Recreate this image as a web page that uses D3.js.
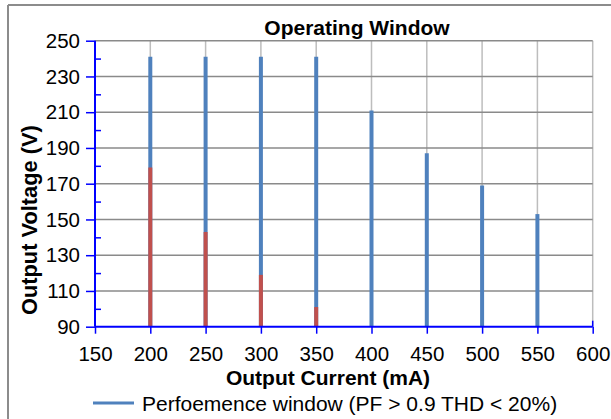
<!DOCTYPE html>
<html><head><meta charset="utf-8">
<script src="https://cdn.jsdelivr.net/npm/d3@7"></script>
<style>body{margin:0;background:#fff}svg{display:block;font-family:"Liberation Sans",Arial,sans-serif}</style>
</head><body><svg id="c" width="611" height="419"></svg>
<script>
const currents = [200, 250, 300, 350, 400, 450, 500, 550];
const perfTop = [241, 241, 241, 241, 211, 187, 169, 153];
const redTop = [179, 143, 119, 101, null, null, null, null];
const xTicks = [150, 200, 250, 300, 350, 400, 450, 500, 550, 600];
const yTicks = [90, 110, 130, 150, 170, 190, 210, 230, 250];
const yMinor = [100, 120, 140, 160, 180, 200, 220, 240];
const legendLabel = "Perfoemence window (PF > 0.9 THD < 20%)";

const svg = d3.select("#c");
const x = d3.scaleLinear().domain([150, 600]).range([95, 592.7]);
const y = d3.scaleLinear().domain([90, 250]).range([326.7, 40.7]);
const axisBlue = "#0000ff";
const FONT = "Liberation Sans, Arial, sans-serif";

// outer border (top & left only visible)
svg.append("line").attr("x1", 8).attr("x2", 611).attr("y1", 5).attr("y2", 5).attr("stroke", "#8c8c8c").attr("stroke-width", 2);
svg.append("line").attr("x1", 8).attr("x2", 8).attr("y1", 5).attr("y2", 419).attr("stroke", "#8c8c8c").attr("stroke-width", 2);

// vertical gridlines
svg.append("g").selectAll("line").data(xTicks.slice(1)).join("line")
  .attr("x1", d => x(d)).attr("x2", d => x(d)).attr("y1", y(250)).attr("y2", y(90))
  .attr("stroke", "#bdbdbd").attr("stroke-width", 1.5);
// horizontal gridlines
svg.append("g").selectAll("line").data(yTicks.slice(1)).join("line")
  .attr("x1", x(150)).attr("x2", x(600)).attr("y1", d => y(d)).attr("y2", d => y(d))
  .attr("stroke", "#8a8a8a").attr("stroke-width", 1.5);

// bars
const bw = 4;
svg.append("g").selectAll("line").data(currents).join("line")
  .attr("x1", d => x(d)).attr("x2", d => x(d))
  .attr("y1", y(90)).attr("y2", (d, i) => y(perfTop[i]))
  .attr("stroke", "#4f81bd").attr("stroke-width", bw);
svg.append("g").selectAll("line").data(currents.filter((d, i) => redTop[i] != null)).join("line")
  .attr("x1", d => x(d)).attr("x2", d => x(d))
  .attr("y1", y(90)).attr("y2", (d, i) => y(redTop[i]))
  .attr("stroke", "#c0504d").attr("stroke-width", bw);

// y axis
const yAxis = d3.axisLeft(y).tickValues(yTicks).tickSize(9).tickPadding(6).tickFormat(d3.format("d"));
const gy = svg.append("g").attr("transform", `translate(${x(150)},0)`).call(yAxis);
gy.select(".domain").remove();
gy.selectAll(".tick line").attr("stroke", axisBlue).attr("stroke-width", 1.5);
gy.selectAll("text").attr("font-size", 20.5).attr("fill", "#000").attr("font-family", FONT);
const yMinorAxis = d3.axisRight(y).tickValues(yMinor).tickSize(6).tickFormat("");
const gym = svg.append("g").attr("transform", `translate(${x(150)},0)`).call(yMinorAxis);
gym.select(".domain").remove();
gym.selectAll(".tick line").attr("stroke", axisBlue).attr("stroke-width", 1.5);
svg.append("line").attr("x1", x(150)).attr("x2", x(150)).attr("y1", y(250)).attr("y2", y(90))
  .attr("stroke", axisBlue).attr("stroke-width", 2);

// x axis
const xAxis = d3.axisBottom(x).tickValues(xTicks).tickSize(7).tickFormat(d3.format("d"));
const gx = svg.append("g").attr("transform", `translate(0,${y(90)})`).call(xAxis);
gx.select(".domain").remove();
gx.selectAll(".tick line").attr("stroke", axisBlue).attr("stroke-width", 1.5);
gx.selectAll("text").attr("font-size", 20.5).attr("fill", "#000").attr("font-family", FONT)
  .attr("y", 361 - y(90)).attr("dy", null);
svg.append("line").attr("x1", x(150)).attr("x2", x(600)).attr("y1", y(90)).attr("y2", y(90))
  .attr("stroke", axisBlue).attr("stroke-width", 2);
svg.append("line").attr("x1", x(600)).attr("x2", x(600)).attr("y1", y(90) - 6).attr("y2", y(90))
  .attr("stroke", axisBlue).attr("stroke-width", 1.5);

// titles
svg.append("text").attr("x", 357).attr("y", 34.5).attr("text-anchor", "middle")
  .attr("font-size", 21).attr("font-weight", "bold").text("Operating Window");
svg.append("text").attr("x", 328).attr("y", 384.5).attr("text-anchor", "middle")
  .attr("font-size", 21).attr("font-weight", "bold").text("Output Current (mA)");
svg.append("text").attr("transform", "translate(37,315) rotate(-90)").attr("text-anchor", "start")
  .attr("font-size", 21.8).attr("font-weight", "bold").text("Output Voltage (V)");

// legend
svg.append("line").attr("x1", 93).attr("x2", 134).attr("y1", 403).attr("y2", 403)
  .attr("stroke", "#4f81bd").attr("stroke-width", 3);
svg.append("text").attr("x", 142).attr("y", 410.5).attr("font-size", 21).text(legendLabel);
</script></body></html>
